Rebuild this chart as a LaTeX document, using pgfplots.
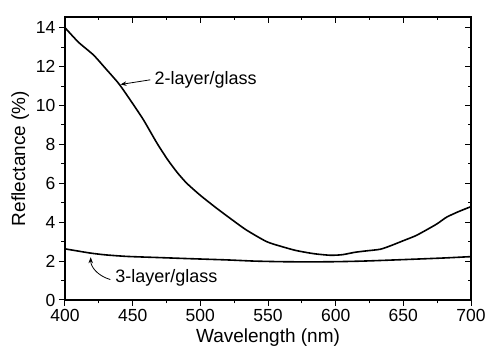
\documentclass[border=0pt]{standalone}
\usepackage{fontspec}
\setmainfont{Liberation Sans}
\usepackage{pgfplots}
\pgfplotsset{compat=1.18}
\usetikzlibrary{arrows.meta}
\pgfplotstableread{
x y
400 14.0
410 13.25
421 12.6
430 11.9
440 11.1
450 10.1
458 9.26
468 8.06
476 7.2
483 6.55
490 6.0
500 5.38
512 4.72
522 4.2
534 3.6
549 3.0
560 2.75
571 2.54
584 2.38
596 2.30
605 2.33
614 2.45
622 2.52
633 2.61
641 2.8
650 3.05
659 3.3
667 3.6
675 3.92
682 4.26
691 4.55
700 4.8
}\twolayer
\pgfplotstableread{
x y
400 2.63
418 2.42
430 2.32
446 2.24
470 2.18
490 2.13
520 2.06
540 2.0
560 1.97
580 1.96
600 1.97
620 2.0
640 2.05
655 2.09
680 2.16
700 2.23
}\threelayer
\begin{document}
\begin{tikzpicture}
\pgfplotsset{
  common/.style={
    width=406pt, height=283pt, scale only axis,
    xmin=400, xmax=700, ymin=0, ymax=14.55,
    xtick={400,450,...,700}, minor x tick num=1,
    ytick={0,2,...,14}, minor y tick num=1,
    major tick length=6pt, minor tick length=3.5pt,
    every tick/.style={line width=1pt, black},
    axis line style={line width=1.2pt},
    ticklabel style={font=\fontsize{17.5}{20}\selectfont},
    /pgf/number format/assume math mode=true,
  }
}
\begin{axis}[common,
  tick align=outside, xtick pos=bottom, ytick pos=left,
  label style={font=\fontsize{19}{22}\selectfont},
  xlabel={Wavelength (nm)}, ylabel={Reflectance (\%)},
  clip=false]
\addplot[black, line width=1.6pt, smooth, tension=0.4] table[x=x,y=y] {\twolayer};
\addplot[black, line width=1.6pt, smooth, tension=0.4] table[x=x,y=y] {\threelayer};
\draw[-{Stealth[length=6pt,width=4.5pt]}, line width=0.8pt] (axis cs:463,11.32) -- (axis cs:441,11.08);
\node[anchor=west, inner sep=0pt, font=\fontsize{18}{21}\selectfont] at (axis cs:466,11.3) {2-layer/glass};
\draw[-{Stealth[length=6pt,width=4.5pt]}, line width=0.8pt] (axis cs:433.5,1.05) .. controls (axis cs:424,1.25) and (axis cs:419,1.7) .. (axis cs:419,2.2);
\node[anchor=west, inner sep=0pt, font=\fontsize{18}{21}\selectfont] at (axis cs:437,1.13) {3-layer/glass};
\coordinate (SW) at (rel axis cs:0,0);
\coordinate (NE) at (rel axis cs:1,1);
\end{axis}
\begin{axis}[common,
  tick align=inside, xtick pos=top, ytick pos=right,
  xticklabels={}, yticklabels={}]
\end{axis}
\pgfresetboundingbox
\path ([xshift=-65pt,yshift=-52pt]SW) rectangle ([xshift=16pt,yshift=17pt]NE);
\end{tikzpicture}
\end{document}
